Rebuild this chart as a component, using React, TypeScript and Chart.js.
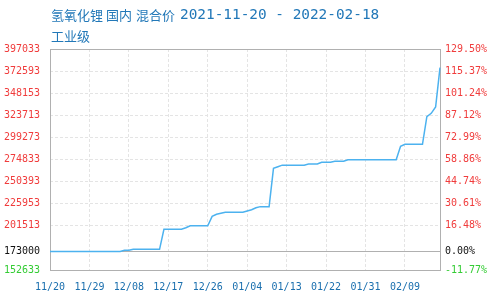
import React, { useEffect, useRef } from 'react';
import { Chart, registerables } from 'chart.js';

Chart.register(...registerables);

const titleProduct = '氢氧化锂';
const titleRegion = '国内';
const titlePriceType = '混合价';
const titleDates = '2021-11-20 - 2022-02-18';
const titleLine2 = '工业级';

const dates = [
  '11/20', '11/21', '11/22', '11/23', '11/24', '11/25', '11/26', '11/27', '11/28', '11/29', '11/30',
  '12/01', '12/02', '12/03', '12/04', '12/05', '12/06', '12/07', '12/08', '12/09', '12/10',
  '12/11', '12/12', '12/13', '12/14', '12/15', '12/16', '12/17', '12/18', '12/19', '12/20',
  '12/21', '12/22', '12/23', '12/24', '12/25', '12/26', '12/27', '12/28', '12/29', '12/30', '12/31',
  '01/01', '01/02', '01/03', '01/04', '01/05', '01/06', '01/07', '01/08', '01/09', '01/10',
  '01/11', '01/12', '01/13', '01/14', '01/15', '01/16', '01/17', '01/18', '01/19', '01/20',
  '01/21', '01/22', '01/23', '01/24', '01/25', '01/26', '01/27', '01/28', '01/29', '01/30', '01/31',
  '02/01', '02/02', '02/03', '02/04', '02/05', '02/06', '02/07', '02/08', '02/09', '02/10',
  '02/11', '02/12', '02/13', '02/14', '02/15', '02/16', '02/17',
];

const prices = [
  173000, 173000, 173000, 173000, 173000, 173000, 173000, 173000, 173000, 173000,
  173000, 173000, 173000, 173000, 173000, 173000, 173000, 174400, 174400, 175500,
  175500, 175500, 175500, 175500, 175500, 175500, 197700, 197700, 197700, 197700,
  197700, 199400, 201600, 201600, 201600, 201600, 201600, 212000, 214300, 215400,
  216500, 216500, 216500, 216500, 216500, 217900, 219300, 221500, 222700, 222700,
  222700, 265100, 266900, 268600, 268600, 268600, 268600, 268600, 268600, 269900,
  269900, 269900, 271800, 271800, 271800, 272900, 272900, 272900, 274600, 274600,
  274600, 274600, 274600, 274600, 274600, 274600, 274600, 274600, 274600, 274600,
  289500, 291700, 291700, 291700, 291700, 291700, 322200, 325900, 332900, 376400,
];

const basePrice = 173000;
const axisMin = 152633;
const axisMax = 397033;
const leftTicks = [397033, 372593, 348153, 323713, 299273, 274833, 250393, 225953, 201513, 173000, 152633];
const labelEvery = 9;

const RED = '#f03c3c';
const GREEN = '#33cc33';
const BLACK = '#111111';
const LINE = '#4cb2ef';
const GRID = '#e4e4e4';
const FRAME = '#b0b0b0';
const BLUE_TEXT = '#1a6fae';
const TITLE_BLUE = '#2278b8';
const MONO = "'DejaVu Sans Mono', monospace";

const pct = (v: number) => ((v / basePrice - 1) * 100).toFixed(2) + '%';
const tickColor = (v: number) => (v > basePrice ? RED : v < basePrice ? GREEN : BLACK);

const titlePlugin = {
  id: 'titleText',
  afterDraw(chart: any) {
    const ctx = chart.ctx;
    ctx.save();
    ctx.fillStyle = TITLE_BLUE;
    ctx.textBaseline = 'middle';
    ctx.textAlign = 'left';
    ctx.font = "13px 'Noto Sans CJK SC', sans-serif";
    ctx.fillText(titleProduct, 51, 15);
    ctx.fillText(titleRegion, 106, 15);
    ctx.fillText(titlePriceType, 136, 15);
    ctx.fillText(titleLine2, 51, 36);
    ctx.font = "14.4px 'DejaVu Sans Mono', monospace";
    ctx.fillText(titleDates, 180, 15);
    ctx.restore();
  },
};

const framePlugin = {
  id: 'frame',
  beforeDatasetsDraw(chart: any) {
    const { ctx, chartArea } = chart;
    const { left, top, right, bottom } = chartArea;
    ctx.save();
    ctx.strokeStyle = FRAME;
    ctx.lineWidth = 1;
    ctx.strokeRect(left + 0.5, top + 0.5, right - left, bottom - top);
    ctx.restore();
  },
};

export default function App() {
  const ref = useRef<HTMLCanvasElement | null>(null);

  useEffect(() => {
    if (!ref.current) return;
    const chart = new Chart(ref.current, {
      type: 'line',
      data: {
        labels: dates,
        datasets: [
          {
            data: prices,
            borderColor: LINE,
            borderWidth: 1.5,
            pointRadius: 0,
            tension: 0,
            fill: false,
          },
        ],
      },
      options: {
        animation: false,
        responsive: false,
        layout: { padding: { top: 49, left: 0, right: 0, bottom: 0 } },
        plugins: { legend: { display: false }, tooltip: { enabled: false }, title: { display: false } },
        scales: {
          x: {
            type: 'category',
            offset: false,
            afterBuildTicks: (s: any) => {
              s.ticks = s.ticks.filter((t: any) => t.value % labelEvery === 0);
            },
            afterFit: (s: any) => {
              s.height = 30;
            },
            grid: { display: true, color: GRID, drawTicks: false },
            border: { display: false, dash: [3, 2] },
            ticks: {
              autoSkip: false,
              maxRotation: 0,
              minRotation: 0,
              padding: 11,
              color: BLUE_TEXT,
              font: { family: MONO, size: 10 },
            },
          },
          y: {
            position: 'left',
            min: axisMin,
            max: axisMax,
            afterBuildTicks: (s: any) => {
              s.ticks = leftTicks.map((v) => ({ value: v }));
            },
            afterFit: (s: any) => {
              s.width = 50;
            },
            grid: {
              drawTicks: false,
              color: (c: any) => (c.tick && c.tick.value === basePrice ? FRAME : GRID),
            },
            border: {
              display: false,
              dash: (c: any) => (c.tick && c.tick.value === basePrice ? [] : [3, 2]),
            },
            ticks: {
              padding: 10,
              font: { family: MONO, size: 10 },
              color: (c: any) => tickColor(c.tick.value),
              callback: (v: any) => String(v),
            },
          },
          y1: {
            position: 'right',
            min: axisMin,
            max: axisMax,
            afterBuildTicks: (s: any) => {
              s.ticks = leftTicks.map((v) => ({ value: v }));
            },
            afterFit: (s: any) => {
              s.width = 50;
            },
            grid: { display: false, drawTicks: false },
            border: { display: false },
            ticks: {
              padding: 5,
              font: { family: MONO, size: 10 },
              color: (c: any) => tickColor(c.tick.value),
              callback: (v: any) => pct(Number(v)),
            },
          },
        },
      } as any,
      plugins: [framePlugin, titlePlugin],
    });
    return () => chart.destroy();
  }, []);

  return (
    <div style={{ position: 'absolute', left: 0, top: 0, width: 490, height: 300, background: '#fff' }}>
      <canvas ref={ref} width={490} height={300} style={{ display: 'block' }} />
    </div>
  );
}
